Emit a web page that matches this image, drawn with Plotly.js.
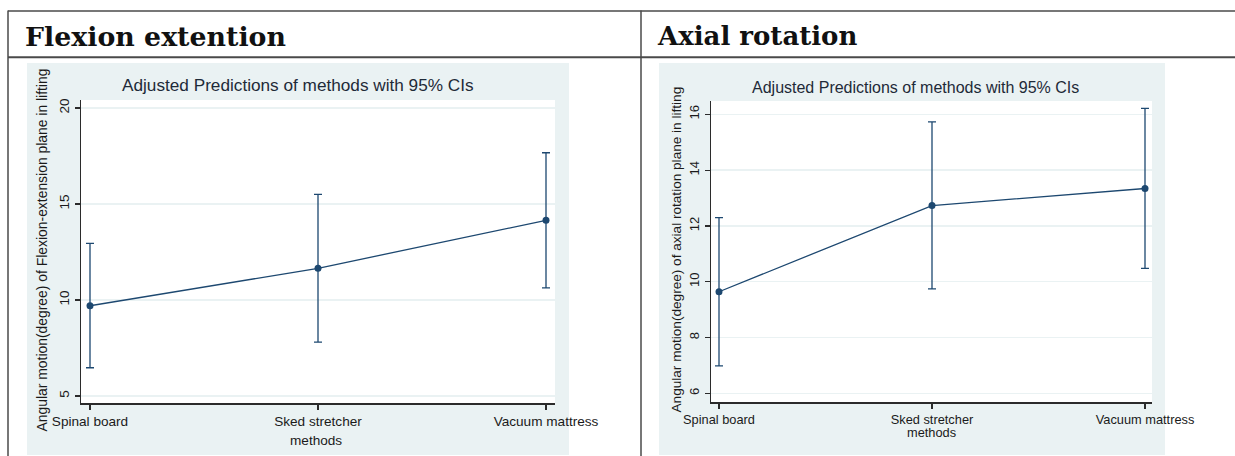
<!DOCTYPE html>
<html>
<head>
<meta charset="utf-8">
<script src="https://cdn.plot.ly/plotly-3.0.1.min.js"></script>
<style>
  html, body { margin: 0; padding: 0; background: #ffffff; }
  #chart { width: 1235px; height: 456px; }
</style>
</head>
<body>
<div id="chart"></div>
<script>
// ---- data ----
const methods = ["Spinal board", "Sked stretcher", "Vacuum mattress"];

const flexMean  = [9.70, 11.65, 14.15];
const flexLower = [6.47, 7.81, 10.63];
const flexUpper = [12.95, 15.50, 17.67];
const flexTicks = [5, 10, 15, 20];

const axialMean  = [9.64, 12.73, 13.34];
const axialLower = [6.98, 9.74, 10.48];
const axialUpper = [12.30, 15.73, 16.21];
const axialTicks = [6, 8, 10, 12, 14, 16];

const headerLeft  = "Flexion extention";
const headerRight = "Axial rotation";
const chartTitle  = "Adjusted Predictions of methods with 95% CIs";
const yTitleLeft  = "Angular motion(degree) of Flexion-extension plane in lifting";
const yTitleRight = "Angular motion(degree) of axial rotation plane in lifting";
const xTitle      = "methods";

// ---- layout helpers (pixel -> paper) ----
const W = 1235, H = 456;
const px = v => v / W;
const py = v => 1 - v / H;

const NAVY = "#1d4870";
const BG = "#eaf2f3";
const AXC = "#2b2b2b";
const SANS = "Liberation Sans, Arial, sans-serif";

function trace(mean, lower, upper, xa, ya) {
  return {
    type: "scatter",
    mode: "lines+markers",
    x: methods,
    y: mean,
    xaxis: xa, yaxis: ya,
    line: { color: NAVY, width: 1.3 },
    marker: { color: NAVY, size: 7 },
    error_y: {
      type: "data", symmetric: false,
      array: upper.map((u, i) => u - mean[i]),
      arrayminus: mean.map((m, i) => m - lower[i]),
      color: NAVY, thickness: 1.3, width: 4
    },
    hoverinfo: "x+y",
    showlegend: false
  };
}

const data = [
  trace(flexMean, flexLower, flexUpper, "x", "y"),
  trace(axialMean, axialLower, axialUpper, "x2", "y2")
];

// plot area geometry in pixels
const L = { x0: 81, x1: 555, y0: 100, y1: 403 };
const R = { x0: 711, x1: 1152, y0: 101, y1: 402.3 };

function xAxis(dom, range, anchor, size) {
  return {
    domain: dom, range: range, anchor: anchor,
    type: "category", categoryorder: "array", categoryarray: methods,
    showline: true, linecolor: AXC, linewidth: 1.5,
    ticks: "outside", ticklen: 5, tickwidth: 1.2, tickcolor: AXC,
    showgrid: false, zeroline: false,
    tickfont: { family: SANS, size: size, color: "#1a1a1a" },
    fixedrange: true
  };
}
function yAxis(dom, range, anchor, tv, size) {
  return {
    domain: dom, range: range, anchor: anchor,
    tickmode: "array", tickvals: tv, ticktext: tv.map(String),
    tickangle: -90,
    showline: true, linecolor: AXC, linewidth: 1.5,
    ticks: "outside", ticklen: 5, tickwidth: 1.2, tickcolor: AXC,
    showgrid: true, gridcolor: BG, gridwidth: 1.5,
    zeroline: false,
    tickfont: { family: SANS, size: size, color: "#1a1a1a" },
    fixedrange: true
  };
}

const shapes = [
  // grey chart panels
  { type: "rect", xref: "paper", yref: "paper", layer: "below",
    x0: px(27), x1: px(569), y0: py(455), y1: py(63), fillcolor: BG, line: { width: 0 } },
  { type: "rect", xref: "paper", yref: "paper", layer: "below",
    x0: px(659), x1: px(1165), y0: py(455), y1: py(63), fillcolor: BG, line: { width: 0 } },
  // white plot regions
  { type: "rect", xref: "paper", yref: "paper", layer: "below",
    x0: px(L.x0), x1: px(L.x1), y0: py(L.y1), y1: py(L.y0), fillcolor: "#ffffff", line: { width: 0 } },
  { type: "rect", xref: "paper", yref: "paper", layer: "below",
    x0: px(R.x0), x1: px(R.x1), y0: py(R.y1), y1: py(R.y0), fillcolor: "#ffffff", line: { width: 0 } },
  // table lines
  { type: "line", xref: "paper", yref: "paper", x0: px(8), x1: px(1235), y0: py(11), y1: py(11),
    line: { color: "#4a4a4a", width: 1.6 } },
  { type: "line", xref: "paper", yref: "paper", x0: px(8), x1: px(1235), y0: py(57.3), y1: py(57.3),
    line: { color: "#4a4a4a", width: 2 } },
  { type: "line", xref: "paper", yref: "paper", x0: px(8), x1: px(8), y0: py(10.5), y1: py(456),
    line: { color: "#4a4a4a", width: 1.5 } },
  { type: "line", xref: "paper", yref: "paper", x0: px(641), x1: px(641), y0: py(10.5), y1: py(456),
    line: { color: "#4a4a4a", width: 1.5 } }
];

function ann(text, x, y, opts) {
  return Object.assign({
    text: text, xref: "paper", yref: "paper", x: px(x), y: py(y),
    showarrow: false, xanchor: "center", yanchor: "middle"
  }, opts);
}

const annotations = [
  ann("<b>" + headerLeft + "</b>", 23, 36, { xanchor: "left",
    font: { family: "DejaVu Serif, serif", size: 26.8, color: "#111" } }),
  ann("<b>" + headerRight + "</b>", 655, 36, { xanchor: "left",
    font: { family: "DejaVu Serif, serif", size: 26.0, color: "#111" } }),
  ann(chartTitle, 298, 85, { font: { family: SANS, size: 17.2, color: "#1e2a38" } }),
  ann(chartTitle, 915, 88, { font: { family: SANS, size: 16, color: "#1e2a38" } }),
  ann(yTitleLeft, 42, 250.5, { textangle: -90, font: { family: SANS, size: 13.9, color: "#1a1a1a" } }),
  ann(yTitleRight, 675.5, 250, { textangle: -90, font: { family: SANS, size: 13.6, color: "#1a1a1a" } }),
  ann(xTitle, 316, 440, { font: { family: SANS, size: 13.6, color: "#1a1a1a" } }),
  ann(xTitle, 931, 432, { font: { family: SANS, size: 12.8, color: "#1a1a1a" } })
];

const layout = {
  width: W, height: H,
  margin: { l: 0, r: 0, t: 0, b: 0, pad: 0 },
  paper_bgcolor: "#ffffff",
  plot_bgcolor: "rgba(0,0,0,0)",
  showlegend: false,
  xaxis: xAxis([px(L.x0), px(L.x1)], [-9/228, 2 + 9/228], "y", 13.6),
  yaxis: yAxis([py(L.y1), py(L.y0)], [4.635, 20.417], "x", flexTicks, 13.5),
  xaxis2: xAxis([px(R.x0), px(R.x1)], [-8/213, 2 + 7/213], "y2", 12.8),
  yaxis2: yAxis([py(R.y1), py(R.y0)], [5.677, 16.477], "x2", axialTicks, 13),
  shapes: shapes,
  annotations: annotations
};

Plotly.newPlot("chart", data, layout, { displayModeBar: false, staticPlot: true });
</script>
</body>
</html>
